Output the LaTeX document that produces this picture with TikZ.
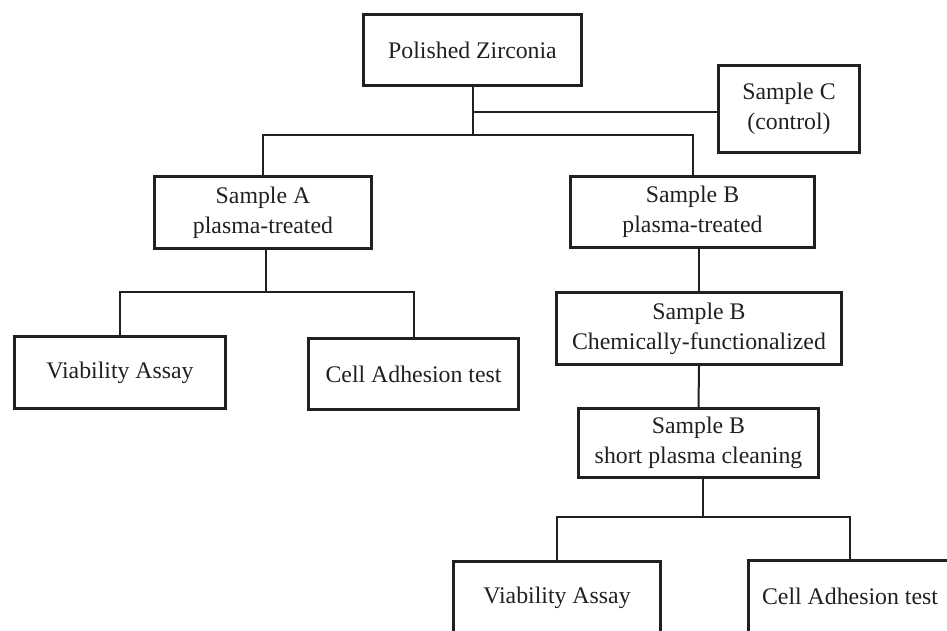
\documentclass[tikz,border=0pt]{standalone}
\usepackage{fontspec}
\setmainfont{Liberation Serif}
\definecolor{ink}{RGB}{35,31,32}

\begin{document}
\begin{tikzpicture}[x=1pt,y=-1pt,
    box/.style={draw=ink,line width=3pt,rectangle,align=center,inner sep=0pt,
      text=ink,font=\fontsize{23.8}{30}\selectfont},
    link/.style={draw=ink,line width=2pt}]
          \useasboundingbox (0,0) rectangle (947,630);
          \clip (0,0) rectangle (947,630);
          \node[box,minimum width=218,minimum height=71] (PZ) at (472.5,50) {Polished Zirconia};
          \node[box,minimum width=141,minimum height=87] (SC) at (789,109) {Sample C\\(control)};
          \node[box,minimum width=217,minimum height=72] (SA) at (263,212.5) {Sample A\\plasma-treated};
          \node[box,minimum width=244,minimum height=71] (SBp) at (692.5,212) {Sample B\\plasma-treated};
          \node[box,minimum width=211,minimum height=72] (VA1) at (120,372.5) {Viability Assay};
          \node[box,minimum width=210,minimum height=71] (CA1) at (413.5,374) {Cell Adhesion test};
          \node[box,minimum width=285,minimum height=72] (SBc) at (699,328.5) {Sample B\\Chemically-functionalized};
          \node[box,minimum width=240,minimum height=69] (SBs) at (698.5,443) {Sample B\\short plasma cleaning};
          \node[box,minimum width=207,minimum height=72] (VA2) at (557,597.5) {Viability Assay};
          \node[box,minimum width=203,minimum height=72] (CA2) at (850,596) {Cell Adhesion test};
          % junctions
          \coordinate (J0) at (472.5,135);
          \coordinate (J1) at (472.5,112);
          \coordinate (JA) at (266,292);
          \coordinate (JB) at (703,517);
          % top level
          \draw[link] (PZ.south) -- (J0);
          \draw[link] (J1) -- (J1 -| SC.west);
          \draw[link] (SA.north) |- (J0) -| (SBp.north);
          % sample A branch
          \draw[link] (SA.south -| JA) -- (JA);
          \draw[link] (VA1.north) |- (JA) -| (CA1.north);
          % sample B branch
          \draw[link] (SBp.south -| SBc.north) -- (SBc.north);
          \draw[link] (SBc.south) -- (SBs.north);
          \draw[link] (SBs.south -| JB) -- (JB);
          \draw[link] (VA2.north) |- (JB) -| (CA2.north);
        \end{tikzpicture}
\end{document}
